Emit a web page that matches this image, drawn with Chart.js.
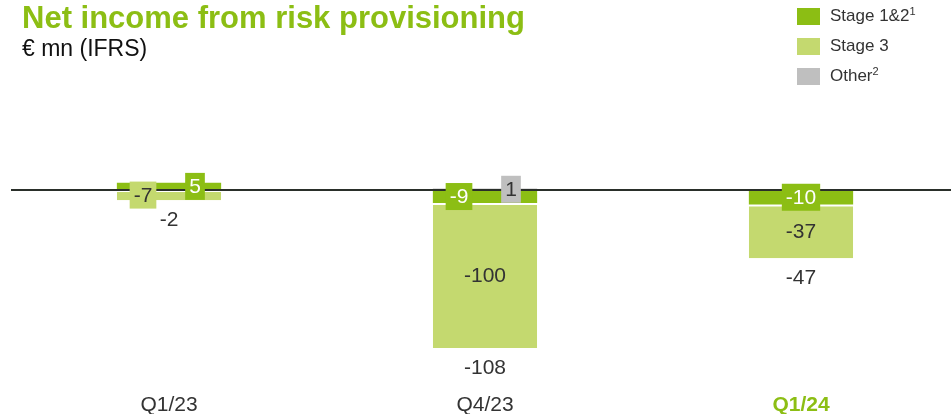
<!DOCTYPE html>
<html>
<head>
<meta charset="utf-8">
<script src="https://cdn.jsdelivr.net/npm/chart.js@4"></script>
<style>
  body { margin: 0; overflow: hidden; background: #fff; font-family: "Liberation Sans", Arial, sans-serif; color: #333; }
  #wrap { position: relative; width: 960px; height: 420px; }
  #titel { position: absolute; left: 22px; top: 2px; font-size: 31px; font-weight: bold; color: #8cbe14; line-height: 1; white-space: nowrap; }
  #unter { position: absolute; left: 22px; top: 37px; font-size: 23px; color: #111; line-height: 1; }
  #legende { position: absolute; left: 797px; top: 1px; font-size: 17px; color: #333; }
  .item { height: 30px; display: flex; align-items: center; }
  .box { width: 23px; height: 17px; margin-right: 10px; }
  sup { font-size: 11px; vertical-align: 6px; line-height: 0; }
</style>
</head>
<body>
<div id="wrap">
  <canvas id="grafico"></canvas>
  <div id="titel">Net income from risk provisioning</div>
  <div id="unter">€ mn (IFRS)</div>
  <div id="legende"></div>
</div>
<script>
const quartale = ["Q1/23", "Q4/23", "Q1/24"];
const stufe12 = [5, -9, -10];
const stufe3 = [-7, -100, -37];
const sonstige = [0, 1, 0];
const summen = [-2, -108, -47];

const gruen = "#8cbe14";
const hellgruen = "#c4d96f";
const grau = "#bfbfbf";
const text = "#333";
const markiert = quartale.length - 1;

const legendeEl = document.getElementById("legende");
[["Stage 1&2", "1", gruen], ["Stage 3", "", hellgruen], ["Other", "2", grau]].forEach(([name, fn, farbe]) => {
  const div = document.createElement("div");
  div.className = "item";
  div.innerHTML = `<span class="box" style="background:${farbe}"></span><span>${name}${fn ? "<sup>" + fn + "</sup>" : ""}</span>`;
  legendeEl.appendChild(div);
});

const beschriftung = {
  id: "beschriftung",
  afterDatasetsDraw(chart) {
    const ctx = chart.ctx;
    const y = chart.scales.y;
    const null0 = y.getPixelForValue(0);

    // Nulllinie
    ctx.save();
    ctx.strokeStyle = "#2a2f2a";
    ctx.lineWidth = 2;
    ctx.beginPath();
    ctx.moveTo(11, null0);
    ctx.lineTo(chart.width, null0);
    ctx.stroke();

    ctx.font = "21px 'Liberation Sans', Arial, sans-serif";
    ctx.textAlign = "center";
    ctx.textBaseline = "middle";

    quartale.forEach((q, i) => {
      const klein = [];
      chart.data.datasets.forEach((ds, d) => {
        const v = ds.data[i];
        if (!v) return;
        const bar = chart.getDatasetMeta(d).data[i];
        const mitte = (bar.y + bar.base) / 2;
        if (Math.abs(v) >= 15) {
          ctx.fillStyle = text;
          ctx.fillText(String(v), bar.x, mitte + 1);
        } else {
          klein.push({ v, d, x: bar.x, y: mitte });
        }
      });

      const gemischt = klein.some(k => k.v > 0) && klein.some(k => k.v < 0);
      klein.forEach(k => {
        const x = gemischt ? k.x + (k.v < 0 ? -26 : 26) : k.x;
        const s = String(k.v);
        const b = ctx.measureText(s).width + 8;
        const ds = chart.data.datasets[k.d];
        ctx.fillStyle = ds.backgroundColor;
        ctx.fillRect(x - b / 2, k.y - 13.5, b, 27);
        ctx.fillStyle = k.d === 0 ? "#fff" : text;
        ctx.fillText(s, x, k.y + 1);
      });

      // Summe unter dem Balken
      const unten = Math.max(...chart.data.datasets.map((ds, d) => chart.getDatasetMeta(d).data[i].y));
      ctx.fillStyle = text;
      ctx.fillText(String(summen[i]), chart.getDatasetMeta(0).data[i].x, unten + 20);
    });
    ctx.restore();
  }
};

new Chart(document.getElementById("grafico"), {
  type: "bar",
  data: {
    labels: quartale,
    datasets: [
      { label: "Stage 1&2", data: stufe12, backgroundColor: gruen },
      { label: "Stage 3", data: stufe3, backgroundColor: hellgruen, borderColor: "#fff",
        borderWidth: { top: 2, right: 0, bottom: 0, left: 0 }, borderSkipped: false },
      { label: "Other", data: sonstige, backgroundColor: grau }
    ]
  },
  options: {
    responsive: true,
    maintainAspectRatio: false,
    animation: false,
    layout: { padding: { top: 100, left: 11, right: 1, bottom: 0 } },
    datasets: { bar: { categoryPercentage: 1, barPercentage: 0.33 } },
    plugins: { legend: { display: false }, tooltip: { enabled: false } },
    scales: {
      x: {
        stacked: true,
        grid: { display: false, drawTicks: false },
        border: { display: false },
        ticks: {
          padding: 4,
          color: c => c.index === markiert ? gruen : text,
          font: c => ({ family: "'Liberation Sans', Arial, sans-serif", size: 21, lineHeight: 1, weight: c.index === markiert ? "bold" : "normal" })
        }
      },
      y: { stacked: true, display: false, min: -138.6, max: 62.07 }
    }
  },
  plugins: [beschriftung]
});
</script>
</body>
</html>
